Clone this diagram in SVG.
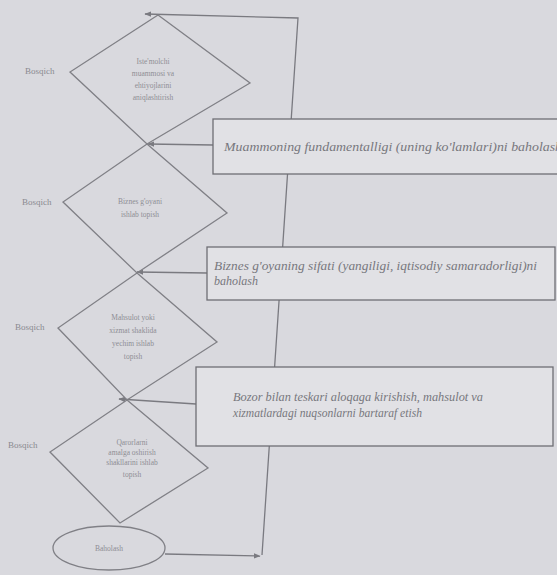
<svg xmlns="http://www.w3.org/2000/svg" width="557" height="575" viewBox="0 0 557 575">
<style>
.bg{fill:#d9d9de}
.shape{fill:none;stroke:#808086;stroke-width:1.3}
.box{fill:#e1e1e5;stroke:#6e6e74;stroke-width:1.3}
.line{fill:none;stroke:#7a7a80;stroke-width:1.3}
.lbl{font-family:"Liberation Serif",serif;font-size:9px;fill:#8a8a90}
.dt{font-family:"Liberation Serif",serif;font-size:7.5px;fill:#8e8e94;text-anchor:middle}
.bt{font-family:"Liberation Serif",serif;font-size:12.5px;font-style:italic;fill:#77777d}
</style>
<defs>
<marker id="ah" viewBox="0 0 10 10" refX="9" refY="5" markerWidth="7" markerHeight="7" orient="auto" markerUnits="userSpaceOnUse">
<path d="M0,1 L10,5 L0,9 z" fill="#7a7a80"/>
</marker>
</defs>
<rect class="bg" width="557" height="575"/>
<g id="connectors">
<polyline class="line" points="262,555 298,18 145,14" marker-end="url(#ah)"/>
<line class="line" x1="165" y1="554" x2="260" y2="556" marker-end="url(#ah)"/>
<line class="line" x1="213" y1="145" x2="148" y2="144" marker-end="url(#ah)"/>
<line class="line" x1="207" y1="273" x2="137" y2="272" marker-end="url(#ah)"/>
<line class="line" x1="196" y1="404" x2="119" y2="399" marker-end="url(#ah)"/>
</g>
<g id="diamond1">
<polygon class="shape" points="158,15 250,83 147,144 70,72"/>
<text class="dt" x="153" y="64">Iste'molchi</text>
<text class="dt" x="153" y="76">muammosi va</text>
<text class="dt" x="153" y="88">ehtiyojlarini</text>
<text class="dt" x="153" y="100">aniqlashtirish</text>
</g>
<g id="label1"><text class="lbl" x="25" y="74">Bosqich</text></g>
<g id="diamond2">
<polygon class="shape" points="147,144 227,213 137,273 63,202"/>
<text class="dt" x="140" y="204">Biznes g'oyani</text>
<text class="dt" x="140" y="217">ishlab topish</text>
</g>
<g id="label2"><text class="lbl" x="22" y="205">Bosqich</text></g>
<g id="diamond3">
<polygon class="shape" points="137,273 217,342 127,400 58,328"/>
<text class="dt" x="133" y="320">Mahsulot yoki</text>
<text class="dt" x="133" y="333">xizmat shaklida</text>
<text class="dt" x="133" y="346">yechim ishlab</text>
<text class="dt" x="133" y="359">topish</text>
</g>
<g id="label3"><text class="lbl" x="15" y="330">Bosqich</text></g>
<g id="diamond4">
<polygon class="shape" points="127,400 208,468 120,523 50,452"/>
<text class="dt" x="132" y="445">Qarorlarni</text>
<text class="dt" x="132" y="455">amalga oshirish</text>
<text class="dt" x="132" y="465">shakllarini ishlab</text>
<text class="dt" x="132" y="477">topish</text>
</g>
<g id="label4"><text class="lbl" x="8" y="448">Bosqich</text></g>
<g id="oval">
<ellipse class="shape" cx="109" cy="548" rx="56" ry="22"/>
<text class="dt" x="109" y="551">Baholash</text>
</g>
<g id="box1">
<rect class="box" x="213" y="119" width="360" height="55"/>
<text class="bt" x="224" y="151" textLength="338" lengthAdjust="spacingAndGlyphs">Muammoning fundamentalligi (uning ko'lamlari)ni baholash</text>
</g>
<g id="box2">
<rect class="box" x="207" y="247" width="348" height="53"/>
<text class="bt" x="214" y="270" textLength="323" lengthAdjust="spacingAndGlyphs">Biznes g'oyaning sifati (yangiligi, iqtisodiy samaradorligi)ni</text>
<text class="bt" x="214" y="285" textLength="44" lengthAdjust="spacingAndGlyphs">baholash</text>
</g>
<g id="box3">
<rect class="box" x="196" y="367" width="357" height="79"/>
<text class="bt" x="233" y="401" textLength="250" lengthAdjust="spacingAndGlyphs">Bozor bilan teskari aloqaga kirishish, mahsulot va</text>
<text class="bt" x="233" y="417" textLength="189" lengthAdjust="spacingAndGlyphs">xizmatlardagi nuqsonlarni bartaraf etish</text>
</g>
</svg>
